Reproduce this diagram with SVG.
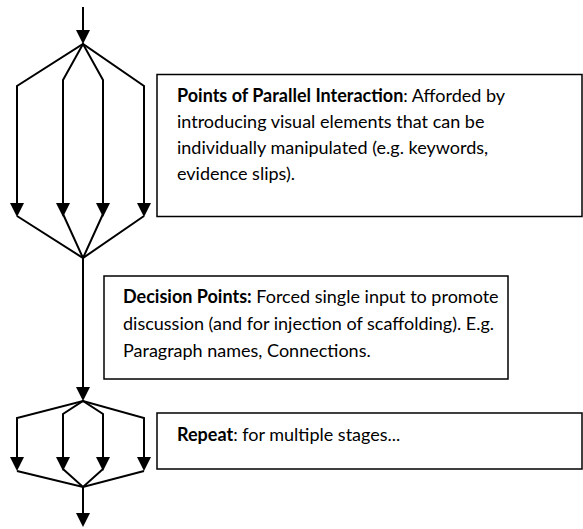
<svg xmlns="http://www.w3.org/2000/svg" width="583" height="529" viewBox="0 0 583 529">
<style>
.ln{fill:none;stroke:#000;stroke-width:2;stroke-linejoin:miter}
.ah{fill:#000;stroke:none}
.box{fill:#fff;stroke:#000;stroke-width:1.5}
.t{font-family:Lato,"Liberation Sans",sans-serif;font-size:18px;fill:#000}
.b{font-weight:bold}
</style>
<defs>
<polygon id="ah" class="ah" points="-7,0 7,0 0,14"/>
</defs>
<rect width="583" height="529" fill="#fff"/>
<g id="connectors">
<line class="ln" x1="83" y1="7" x2="83" y2="32"/>
<use href="#ah" x="83" y="30"/>
<polyline class="ln" points="17,206 17,86 83,44 144,86 144,206"/>
<polyline class="ln" points="63,206 63,80 83,44 103,80 103,206"/>
<use href="#ah" x="17" y="203"/>
<use href="#ah" x="63" y="203"/>
<use href="#ah" x="103" y="203"/>
<use href="#ah" x="144" y="203"/>
<polyline class="ln" points="17,216 83,258 144,216"/>
<polyline class="ln" points="63,214 83,258 103,214"/>
<line class="ln" x1="83" y1="258" x2="83" y2="390"/>
<use href="#ah" x="83" y="387"/>
<polyline class="ln" points="17,460 17,418 83,401 144,418 144,460"/>
<polyline class="ln" points="63,460 63,414 83,401 103,414 103,460"/>
<use href="#ah" x="17" y="457"/>
<use href="#ah" x="63" y="457"/>
<use href="#ah" x="103" y="457"/>
<use href="#ah" x="144" y="457"/>
<polyline class="ln" points="17,471 83,487 144,471"/>
<polyline class="ln" points="63,469 83,487 103,469"/>
<line class="ln" x1="83" y1="487" x2="83" y2="516"/>
<use href="#ah" x="83" y="513"/>
</g>
<g id="node-parallel">
<rect class="box" x="157" y="74.5" width="425" height="142"/>
<text class="t" x="177" y="102"><tspan class="b">Points of Parallel Interaction</tspan>: Afforded by</text>
<text class="t" x="177" y="128">introducing visual elements that can be</text>
<text class="t" x="177" y="154">individually manipulated (e.g. keywords,</text>
<text class="t" x="177" y="180">evidence slips).</text>
</g>
<g id="node-decision">
<rect class="box" x="104" y="276" width="404" height="103"/>
<text class="t" x="123" y="303"><tspan class="b">Decision Points:</tspan> Forced single input to promote</text>
<text class="t" x="123" y="330">discussion (and for injection of scaffolding). E.g.</text>
<text class="t" x="123" y="357">Paragraph names, Connections.</text>
</g>
<g id="node-repeat">
<rect class="box" x="157" y="413" width="425" height="56"/>
<text class="t" x="177" y="441"><tspan class="b">Repeat</tspan>: for multiple stages...</text>
</g>
</svg>
